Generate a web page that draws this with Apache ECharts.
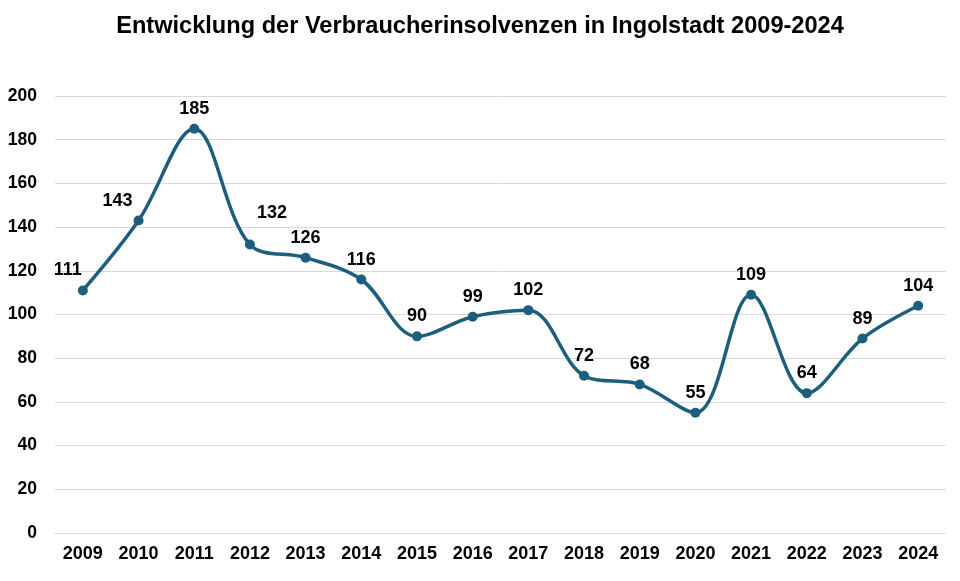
<!DOCTYPE html>
<html lang="de">
<head>
<meta charset="utf-8">
<script src="https://cdn.jsdelivr.net/npm/echarts@6/dist/echarts.min.js"></script>
<style>
  html, body { margin: 0; padding: 0; background: #fff; }
  #chart { width: 960px; height: 581px; }
</style>
</head>
<body>
<div id="chart"></div>
<script>
var years = ['2009', '2010', '2011', '2012', '2013', '2014', '2015', '2016',
             '2017', '2018', '2019', '2020', '2021', '2022', '2023', '2024'];
var insolvenzen = [111, 143, 185, 132, 126, 116, 90, 99, 102, 72, 68, 55, 109, 64, 89, 104];

var chart = echarts.init(document.getElementById('chart'));

// einige Beschriftungen sind im Original seitlich verschoben
var labelShift = { 0: [-15, 0], 1: [-21, 0], 3: [22, -12] };

var seriesData = insolvenzen.map(function (v, i) {
    var item = { value: v };
    if (labelShift[i]) {
        item.label = { offset: labelShift[i] };
    }
    return item;
});

var fontFamily = '"Liberation Sans", Arial, sans-serif';

var option = {
    title: {
        text: 'Entwicklung der Verbraucherinsolvenzen in Ingolstadt 2009-2024',
        left: 'center',
        top: 9,
        textStyle: { fontFamily: fontFamily, fontSize: 23.6, fontWeight: 'bold', color: '#000' }
    },
    grid: {
        left: 55,
        right: 14,
        top: 96,
        bottom: 48
    },
    xAxis: {
        type: 'category',
        data: years,
        boundaryGap: true,
        axisLine: { show: true, lineStyle: { color: '#d9d9d9', width: 1 } },
        axisTick: { show: false },
        axisLabel: {
            fontFamily: fontFamily, fontSize: 18, fontWeight: 'bold', color: '#000', margin: 12
        }
    },
    yAxis: {
        type: 'value',
        min: 0,
        max: 200,
        interval: 20,
        axisLine: { show: false },
        axisTick: { show: false },
        splitLine: { lineStyle: { color: '#d9d9d9', width: 1 } },
        axisLabel: {
            fontFamily: fontFamily, fontSize: 17.5, fontWeight: 'bold', color: '#000', margin: 18
        }
    },
    series: [
        {
            type: 'line',
            data: seriesData,
            smooth: 0.35,
            symbol: 'circle',
            symbolSize: 10,
            lineStyle: { color: '#1b5e7e', width: 3.5 },
            itemStyle: { color: '#1b5e7e' },
            label: {
                show: true,
                position: 'top',
                distance: 6,
                fontFamily: fontFamily,
                fontSize: 18,
                fontWeight: 'bold',
                color: '#000'
            },
            animation: false
        }
    ]
};

chart.setOption(option);
</script>
</body>
</html>
